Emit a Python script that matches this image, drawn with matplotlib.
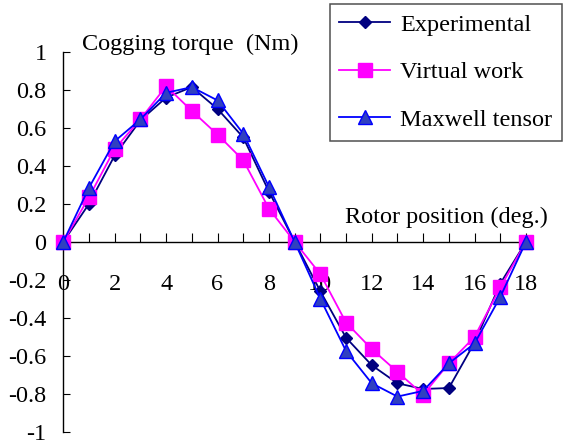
import numpy as np
import matplotlib
matplotlib.use('Agg')
import matplotlib.pyplot as plt

plt.rcParams['font.family'] = ['Liberation Serif', 'DejaVu Serif']
plt.rcParams['font.size'] = 17.5

position = list(range(19))
experimental = [0, 0.20, 0.455, 0.64, 0.76, 0.815, 0.70, 0.55, 0.265, 0,
                -0.26, -0.505, -0.65, -0.745, -0.775, -0.77, -0.53, -0.22, 0]
virtual_work = [0, 0.235, 0.49, 0.645, 0.82, 0.69, 0.565, 0.43, 0.175, 0,
                -0.17, -0.425, -0.565, -0.685, -0.805, -0.64, -0.50, -0.24, 0]
maxwell = [0, 0.285, 0.53, 0.645, 0.785, 0.815, 0.745, 0.57, 0.29, 0,
           -0.30, -0.575, -0.745, -0.815, -0.785, -0.64, -0.535, -0.29, 0]
y_ticks = [-1, -0.8, -0.6, -0.4, -0.2, 0, 0.2, 0.4, 0.6, 0.8, 1]
y_labels = ['-1', '-0.8', '-0.6', '-0.4', '-0.2', '0', '0.2', '0.4', '0.6', '0.8', '1']

fig = plt.figure(figsize=(5.64, 4.45), dpi=100)
ax = fig.add_axes([0.1122, 0.0299, 0.8204, 0.8533])

ax.plot(position, experimental, color='#000080', lw=1.3, marker='D', ms=6.5,
        mfc='#000080', mec='#000080', label='Experimental', clip_on=False, zorder=3)
ax.plot(position, virtual_work, color='#FF00FF', lw=1.3, marker='s', ms=10.5,
        mfc='#FF00FF', mec='#FF00FF', label='Virtual work', clip_on=False, zorder=4)
ax.plot(position, maxwell, color='#0000FF', lw=1.3, marker='^', ms=10,
        mfc='#3040C0', mec='#0000FF', label='Maxwell tensor', clip_on=False, zorder=5)

ax.set_xlim(0, 18)
ax.set_ylim(-1, 1)
ax.spines['left'].set_position(('data', 0))
ax.spines['bottom'].set_position(('data', 0))
ax.spines['top'].set_visible(False)
ax.spines['right'].set_visible(False)
for s in ('left', 'bottom'):
    ax.spines[s].set_linewidth(1.0)

ax.set_xticks(position)
ax.set_xticklabels([str(p) if p % 2 == 0 else '' for p in position])
ax.set_yticks(y_ticks)
ax.set_yticklabels(y_labels)
ax.tick_params(axis='x', direction='in', length=6.5, width=0.8, pad=23)
ax.tick_params(axis='y', direction='in', length=5, width=0.8, pad=12)

ax.text(0.73, 1.04, 'Cogging torque  (Nm)', va='center', ha='left', clip_on=False)
ax.text(18.86, 0.128, 'Rotor position (deg.)', va='center', ha='right', clip_on=False)

leg = ax.legend(loc='upper right', bbox_to_anchor=(0.996, 0.991),
                bbox_transform=fig.transFigure, borderaxespad=0,
                fancybox=False, edgecolor='#505050', framealpha=1,
                handlelength=2.1, handletextpad=0.4, labelspacing=1.05,
                borderpad=0.4)
leg.get_frame().set_linewidth(1.1)

fig.savefig('out.png', dpi=100)
